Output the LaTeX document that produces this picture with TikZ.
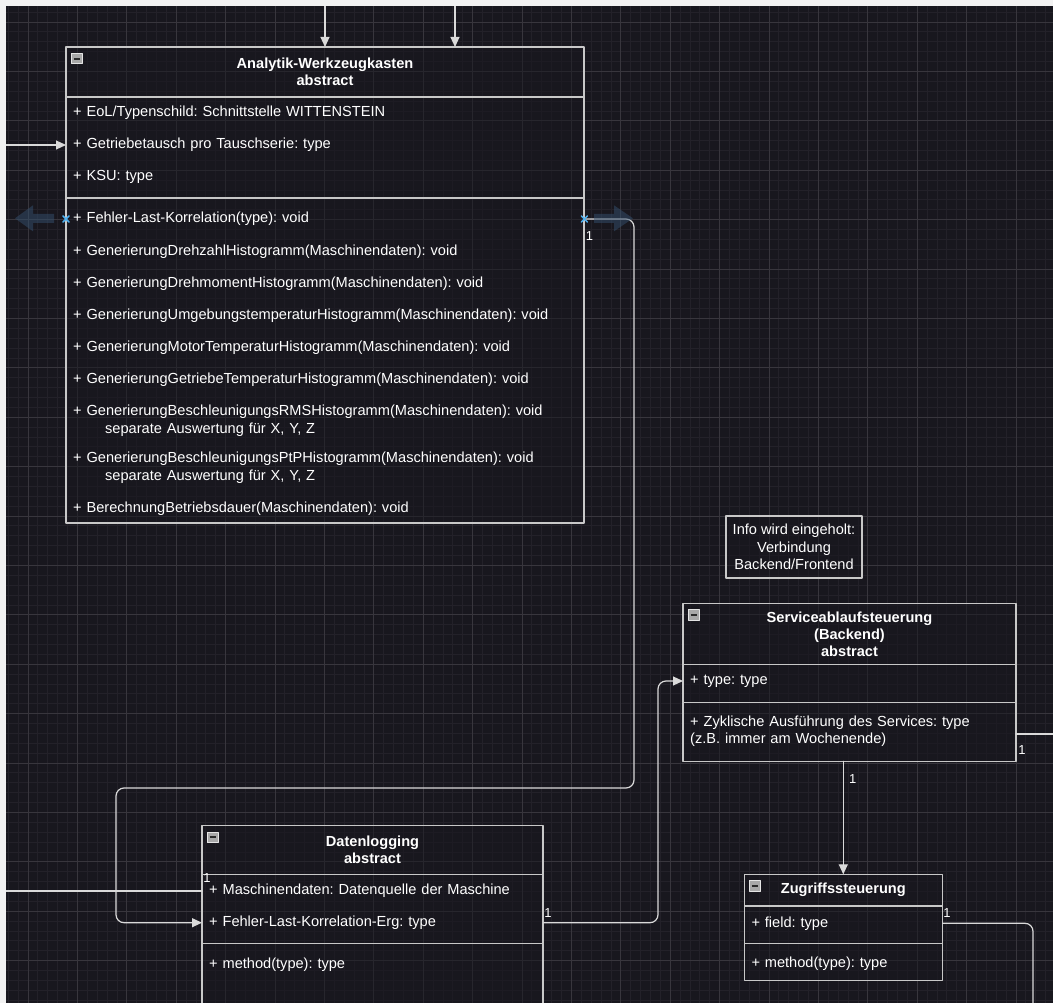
\documentclass[tikz,border=0pt]{standalone}
\usepackage{fontspec}
\setmainfont{Liberation Sans}
\frenchspacing
\usetikzlibrary{positioning,arrows.meta}
\definecolor{canvas}{HTML}{18171E}
\definecolor{gridminor}{HTML}{232129}
\definecolor{gridmajor}{HTML}{38363D}
\definecolor{boxline}{HTML}{C8C8C8}
\definecolor{wirecol}{HTML}{DADADA}
\definecolor{handlecol}{HTML}{4CB0F0}
\definecolor{hover}{HTML}{34506E}
\definecolor{iconfill}{HTML}{A8A8A8}
\definecolor{icondark}{HTML}{2A2A2A}
\definecolor{margin}{HTML}{F2F2F2}

\begin{document}
\begin{tikzpicture}[x=1pt, y=-1pt, line join=round, line cap=round, >={Triangle[length=10pt,width=9pt]}]
	\tikzset{every node/.style={text=white},
		txt/.style={font={\fontsize{14.6}{17.5}\selectfont}},
		clshead/.style={draw=boxline, line width=1.4pt, fill=canvas, fill opacity=.5, text opacity=1, outer sep=0pt, inner sep=0pt, anchor=north west, align=center, font={\fontsize{14.6}{17}\selectfont\bfseries}},
		clspart/.style={draw=boxline, line width=1.4pt, fill=canvas, fill opacity=.5, outer sep=0pt, inner sep=0pt},
		row/.style={anchor=west, inner xsep=7pt, inner ysep=0pt, text width=#1, align=left, txt},
		wire/.style={draw=wirecol, line width=1.2pt},
		fold/.style={draw=white!80!gray, fill=iconfill, line width=.8pt, minimum size=10.5pt, inner sep=0pt, anchor=north west, xshift=5pt, yshift=-6pt},
		mult/.style={font={\fontsize{13}{15}\selectfont}},
		handle/.style={draw=handlecol, line width=1.5pt}}
	\useasboundingbox (0,0) rectangle (1053,1003);
	% grid
	\fill[canvas] (0,0) rectangle (1053,1003);
	\foreach \k in {-2,...,104}
	\draw[gridminor, line width=.8pt] ({28+\k*9.88},0) -- ++(0,1003);
	\foreach \k in {-2,...,99}
	\draw[gridminor, line width=.8pt] (0,{22+\k*9.88}) -- ++(1053,0);
	\foreach \k in {0,...,21}
	\draw[gridmajor, line width=.8pt] ({28+\k*49.4},0) -- ++(0,1003);
	\foreach \k in {0,...,20}
	\draw[gridmajor, line width=.8pt] (0,{22+\k*49.4}) -- ++(1053,0);
	% Analytik-Werkzeugkasten
	\node[clshead, minimum width=518pt, minimum height=50pt] (awk-head) at (66,47) {Analytik-Werkzeugkasten\\abstract};
	\node[clspart, minimum width=518pt, minimum height=101pt, below=0pt of awk-head] (awk-attr) {};
	\node[clspart, minimum width=518pt, minimum height=325pt, below=0pt of awk-attr] (awk-ops) {};
	\node[fold] (awk-fold) at (awk-head.north west) {\textcolor{icondark}{\rule{6pt}{1.8pt}}};
	\node[row=504pt] (awk-a1) at (66,113) {+ EoL/Typenschild: Schnittstelle WITTENSTEIN};
	\node[row=504pt] (awk-a2) at (66,145) {+ Getriebetausch pro Tauschserie: type};
	\node[row=504pt] (awk-a3) at (66,177) {+ KSU: type};
	\node[row=504pt] (awk-o1) at (66,219) {+ Fehler-Last-Korrelation(type): void};
	\foreach \n/\y/\t in {o2/251.5/Drehzahl, o3/283.5/Drehmoment, o4/315.7/Umgebungstemperatur, o5/347.8/MotorTemperatur, o6/380/GetriebeTemperatur}
	\node[row=504pt] (awk-\n) at (66,\y) {+ Generierung\t Histogramm(Maschinendaten): void};
	\node[row=504pt] (awk-o7) at (66,420.7) {+ GenerierungBeschleunigungsRMSHistogramm(Maschinendaten): void\\\hspace*{32pt}separate Auswertung für X, Y, Z};
	\node[row=504pt] (awk-o8) at (66,467.5) {+ GenerierungBeschleunigungsPtPHistogramm(Maschinendaten): void\\\hspace*{32pt}separate Auswertung für X, Y, Z};
	\node[row=504pt] (awk-o9) at (66,508.3) {+ BerechnungBetriebsdauer(Maschinendaten): void};
	% Info
	\node[draw=boxline, line width=1.4pt, fill=canvas, fill opacity=.5, text opacity=1, minimum width=136pt, minimum height=62pt, inner sep=0pt, align=center, txt] (info) at (794,547) {Info wird eingeholt:\\Verbindung\\Backend/Frontend};
	% Serviceablaufsteuerung
	\node[clshead, minimum width=333pt, minimum height=61pt] (sv-head) at (683,603.3) {Serviceablaufsteuerung\\(Backend)\\abstract};
	\node[clspart, minimum width=333pt, minimum height=38pt, below=0pt of sv-head] (sv-attr) {};
	\node[clspart, minimum width=333pt, minimum height=59pt, below=0pt of sv-attr] (sv-ops) {};
	\node[fold] (sv-fold) at (sv-head.north west) {\textcolor{icondark}{\rule{6pt}{1.8pt}}};
	\node[row=319pt] (sv-a1) at (683,681) {+ type: type};
	\node[row=319pt] (sv-o1) at (683,731.4) {+ Zyklische Ausführung des Services: type\\(z.B. immer am Wochenende)};
	% Datenlogging
	\node[clshead, minimum width=341pt, minimum height=48.6pt] (dl-head) at (202,825.7) {Datenlogging\\abstract};
	\node[clspart, minimum width=341pt, minimum height=69pt, below=0pt of dl-head] (dl-attr) {};
	\node[clspart, minimum width=341pt, minimum height=72pt, below=0pt of dl-attr] (dl-ops) {};
	\node[fold] (dl-fold) at (dl-head.north west) {\textcolor{icondark}{\rule{6pt}{1.8pt}}};
	\node[row=327pt] (dl-a1) at (202,891) {+ Maschinendaten: Datenquelle der Maschine};
	\node[row=327pt] (dl-a2) at (202,922.7) {+ Fehler-Last-Korrelation-Erg: type};
	\node[row=327pt] (dl-o1) at (202,965) {+ method(type): type};
	% Zugriffssteuerung
	\node[clshead, minimum width=198pt, minimum height=31.7pt] (zs-head) at (744.3,874.3) {Zugriffssteuerung};
	\node[clspart, minimum width=198pt, minimum height=37.3pt, below=0pt of zs-head] (zs-attr) {};
	\node[clspart, minimum width=198pt, minimum height=37.4pt, below=0pt of zs-attr] (zs-ops) {};
	\node[fold] (zs-fold) at (zs-head.north west) {\textcolor{icondark}{\rule{6pt}{1.8pt}}};
	\node[row=184pt] (zs-a1) at (744.3,923.3) {+ field: type};
	\node[row=184pt] (zs-o1) at (744.3,964) {+ method(type): type};
	% connectors
	\coordinate (in1) at (325,0);
	\coordinate (in2) at (455,0);
	\coordinate (in3) at (0,145);
	\coordinate (in4) at (0,891);
	\coordinate (out1) at (1053,734);
	\coordinate (out2) at (1033,1010);
	\coordinate (bend1) at (634,788);
	\coordinate (bend2) at (116,788);
	\coordinate (bend3) at (658,681);
	\draw[wire,->] (in1) -- (in1 |- awk-head.north);
	\draw[wire,->] (in2) -- (in2 |- awk-head.north);
	\draw[wire,->] (in3) -- (awk-a2.west);
	\draw[wire] (in4) -- (dl-a1.west);
	\draw[wire,->,rounded corners=8pt] (awk-o1.east) -| (bend1) -- (bend2) |- (dl-a2.west);
	\draw[wire,->,rounded corners=8pt] (dl-a2.east) -| (bend3) -- (sv-a1.west);
	\draw[wire,->] (zs-head.north |- sv-ops.south) -- (zs-head.north);
	\draw[wire] (sv-ops.east |- out1) -- (out1);
	\draw[wire,rounded corners=8pt] (zs-a1.east) -| (out2);
	% hover arrows and handles
	\fill[hover, opacity=.5] (15,218.3) -- (33,205.3) -- (33,213.8) -- (54,213.8) -- (54,222.8) -- (33,222.8) -- (33,231.3) -- cycle;
	\fill[hover, opacity=.5] (633,218.3) -- (614,205.3) -- (614,213.8) -- (594,213.8) -- (594,222.8) -- (614,222.8) -- (614,231.3) -- cycle;
	\draw[handle] (awk-o1.west) +(-3,-3) -- +(3,3) +(-3,3) -- +(3,-3);
	\draw[handle] (awk-o1.east) +(-3,-3) -- +(3,3) +(-3,3) -- +(3,-3);
	% multiplicities
	\node[mult] (m1) at (589.5,236) {1};
	\node[mult] (m2) at (207,878) {1};
	\node[mult] (m3) at (548,912.7) {1};
	\node[mult] (m4) at (852.7,779) {1};
	\node[mult] (m5) at (1022,750) {1};
	\node[mult] (m6) at (947,912.7) {1};
	% margin
	\fill[margin] (0,0) rectangle (1053,6);
	\fill[margin] (0,0) rectangle (6,1003);
\end{tikzpicture}
\end{document}
